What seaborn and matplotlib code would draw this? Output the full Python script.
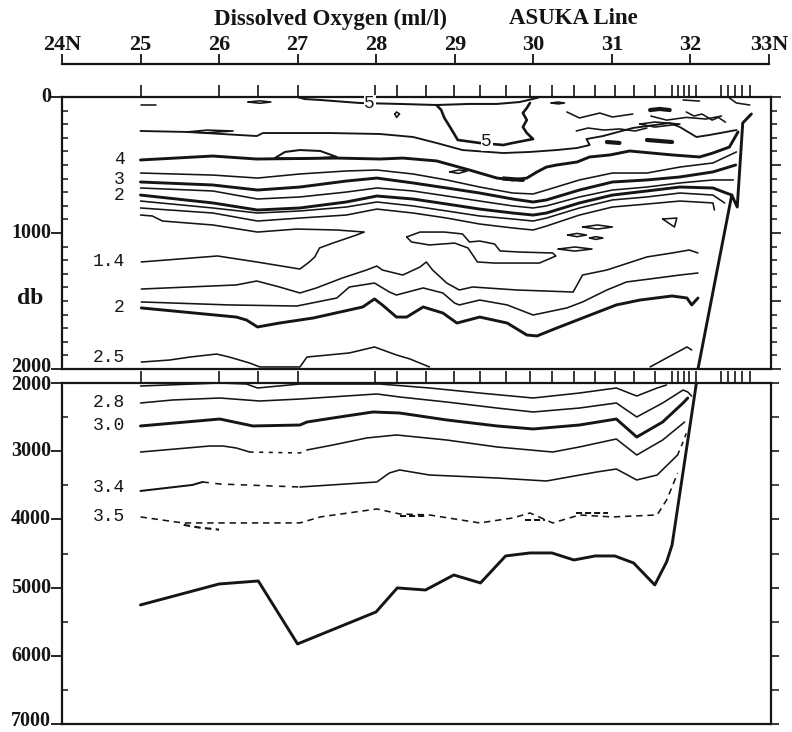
import numpy as np
import pandas as pd
import matplotlib
matplotlib.use("Agg")
import matplotlib.pyplot as plt
import seaborn as sns
from matplotlib.ticker import MultipleLocator

# ---------------- data ----------------
lat_ticks = [24, 25, 26, 27, 28, 29, 30, 31, 32, 33]
lat_tick_labels = ['24N', '25', '26', '27', '28', '29', '30', '31', '32', '33N']
stations = [25.0, 26.0, 26.49, 27.0, 27.99, 28.27, 28.63, 28.99, 29.33, 29.65, 29.96,
            30.24, 30.52, 30.79, 31.04, 31.28, 31.55, 31.77, 31.84, 31.92, 31.99, 32.08,
            32.39, 32.48, 32.57, 32.66, 32.76]
upper_ticks = [0, 1000, 2000]
lower_ticks = [2000, 3000, 4000, 5000, 6000, 7000]

# upper section (0-2000 db)
c50_lat = [27.0, 27.09, 27.29, 27.79, 28.30, 28.77, 29.19, 29.54, 29.83, 30.05, 30.08]
c50_dep = [0, 15, 22, 44, 51, 59, 51, 51, 37, 7, 0]
pocket_lat = [28.77, 28.83, 28.87, 28.91, 28.98, 29.04, 29.32, 29.62, 29.74, 30.0, 29.92, 29.87, 29.92, 29.87, 29.92, 29.96]
pocket_dep = [59, 96, 154, 191, 257, 316, 338, 353, 338, 309, 265, 221, 169, 118, 81, 44]

c45_lat = [25.0, 25.59, 26.48, 26.56, 27.41, 28.05, 28.47, 28.77, 29.10, 29.62, 29.96, 30.30, 30.56,
           30.72, 30.68, 30.89, 31.27, 31.74, 31.87, 32.08, 32.25, 32.59]
c45_dep = [250, 257, 287, 265, 265, 272, 294, 338, 390, 412, 404, 390, 375, 353, 309, 287, 228, 191,
           221, 294, 279, 243]

c40_lat = [25.0, 25.92, 26.48, 27.50, 28.05, 28.34, 28.77, 29.19, 29.54, 29.74, 29.92, 30.05, 30.17,
           30.30, 30.56, 30.72, 30.98, 31.23, 31.77, 32.12, 32.29, 32.50, 32.61]
c40_dep = [463, 434, 456, 449, 456, 449, 470, 537, 596, 610, 596, 551, 515, 500, 478, 441, 426, 397,
           426, 441, 412, 368, 257]
c40_bump_lat = [26.71, 26.84, 27.03, 27.29, 27.50, 27.03, 26.71]
c40_bump_dep = [449, 404, 390, 397, 441, 456, 449]

c35_lat = [25.0, 25.92, 26.49, 27.03, 27.62, 28.01, 28.47, 28.90, 29.32, 29.74, 30.0, 30.17, 30.59, 31.01, 31.45, 31.87, 32.29, 32.59]
c35_dep = [559, 574, 596, 566, 544, 537, 566, 610, 662, 706, 713, 684, 610, 559, 559, 515, 485, 404]
c30_lat = [25.0, 25.92, 26.49, 27.03, 27.62, 28.01, 28.47, 28.90, 29.32, 29.74, 30.0, 30.17, 30.59, 31.01, 31.45, 31.87, 32.29, 32.58]
c30_dep = [625, 647, 684, 662, 618, 596, 632, 669, 706, 750, 772, 757, 684, 625, 610, 588, 551, 500]
c25_lat = [25.0, 25.92, 26.49, 27.03, 27.62, 28.01, 28.47, 28.90, 29.32, 29.74, 30.0, 30.17, 30.59, 31.01, 31.45, 31.87, 32.29, 32.55]
c25_dep = [669, 691, 750, 735, 699, 669, 691, 728, 765, 801, 816, 801, 735, 684, 662, 632, 610, 610]
c20_lat = [25.0, 25.92, 26.49, 27.03, 27.62, 28.01, 28.47, 28.90, 29.32, 29.74, 30.0, 30.17, 30.59, 31.01, 31.45, 31.87, 32.29, 32.53]
c20_dep = [721, 779, 831, 816, 772, 728, 750, 787, 824, 853, 868, 853, 779, 721, 691, 662, 669, 721]
c18_lat = [25.0, 25.92, 26.49, 27.03, 27.62, 28.01, 28.47, 28.90, 29.32, 29.74, 30.0, 30.17, 30.59, 31.01, 31.45, 31.87, 32.29, 32.44]
c18_dep = [765, 816, 853, 838, 809, 772, 801, 838, 875, 897, 912, 890, 816, 757, 735, 706, 721, 779]
c16_lat = [25.0, 25.92, 26.49, 27.03, 27.62, 28.01, 28.47, 28.90, 29.32, 29.74, 30.0, 30.17, 30.59, 31.01, 31.45, 31.87, 32.29, 32.31]
c16_dep = [816, 853, 912, 890, 868, 824, 853, 890, 934, 963, 978, 949, 868, 809, 787, 765, 779, 831]

c14_lat = [25.0, 25.15, 25.28, 25.92, 26.49, 26.99, 27.50, 27.85, 27.75, 27.45, 27.28, 27.22, 27.15,
           27.03, 26.48, 25.98, 25.01]
c14_dep = [868, 875, 912, 941, 993, 971, 978, 993, 1015, 1074, 1110, 1176, 1213, 1265, 1213, 1169, 1213]
c14_loop_lat = [28.39, 28.56, 28.87, 29.10, 29.19, 29.32, 29.51, 29.58, 29.83, 30.25, 30.29, 30.08, 29.83,
                29.51, 29.29, 29.24, 29.17, 29.0, 28.68, 28.45, 28.39]
c14_loop_dep = [1029, 993, 993, 1007, 1066, 1059, 1081, 1132, 1140, 1147, 1169, 1221, 1221, 1221, 1213,
                1169, 1110, 1074, 1088, 1066, 1029]

c16b_lat = [25.01, 26.22, 26.48, 26.77, 27.03, 27.24, 27.57, 27.88, 28.01, 28.08, 28.34, 28.56, 28.64,
            28.72, 28.90, 29.06, 29.23, 29.79, 30.51, 30.63, 30.94, 31.45, 31.77, 31.99, 32.10]
c16b_dep = [1412, 1382, 1353, 1397, 1441, 1404, 1331, 1272, 1243, 1272, 1309, 1250, 1213, 1272, 1368,
            1419, 1397, 1419, 1434, 1309, 1272, 1176, 1147, 1125, 1147]
c18b_lat = [25.01, 26.13, 26.99, 27.50, 27.66, 27.98, 28.17, 28.26, 28.60, 28.85, 29.00, 29.06, 29.32,
            29.67, 30.00, 30.43, 30.63, 30.94, 31.19, 31.58, 31.87, 32.10]
c18b_dep = [1507, 1529, 1537, 1478, 1397, 1368, 1434, 1456, 1404, 1441, 1515, 1529, 1493, 1529, 1603,
            1551, 1507, 1419, 1360, 1331, 1309, 1294]
c20b_lat = [25.01, 26.22, 26.35, 26.49, 26.77, 27.20, 27.83, 27.98, 28.08, 28.26, 28.39, 28.60, 28.85,
            29.03, 29.32, 29.67, 29.92, 30.05, 30.30, 30.63, 31.06, 31.36, 31.77, 31.96, 32.02, 32.10]
c20b_dep = [1551, 1618, 1640, 1691, 1662, 1625, 1544, 1485, 1529, 1618, 1618, 1544, 1588, 1662, 1618,
            1662, 1750, 1757, 1699, 1625, 1529, 1493, 1463, 1478, 1529, 1478]
c25b_lat = [25.01, 25.37, 25.63, 25.97, 26.13, 26.39, 26.52, 27.03, 27.12, 27.66, 27.98, 28.26, 28.43, 28.68]
c25b_dep = [1949, 1934, 1912, 1890, 1912, 1956, 1985, 1985, 1912, 1882, 1838, 1897, 1926, 1985]
c25c_lat = [31.49, 31.77, 31.96, 32.02]
c25c_dep = [1985, 1897, 1838, 1860]

slope_u_lat = [32.10, 32.53, 32.60, 32.67, 32.78]
slope_u_dep = [2000, 721, 809, 191, 125]

# small closed cells / fragments in the upper section
frag_lats = [
    [25.01, 25.20],
    [26.37, 26.52, 26.66, 26.52, 26.37],
    [28.24, 28.26, 28.30, 28.26, 28.24],
    [25.59, 25.85, 26.18, 25.85, 25.59],
    [30.23, 30.32, 30.40, 30.32, 30.23],
    [30.43, 30.59, 30.85, 31.01, 31.27],
    [31.36, 31.55, 31.87, 31.55, 31.36],
    [32.50, 32.59, 32.76],
    [31.91, 32.12],
    [28.94, 29.05, 29.16, 29.05, 28.94],
    [31.65, 31.83, 31.80, 31.65],
    [30.63, 30.82, 31.01, 30.82, 30.63],
    [30.44, 30.56, 30.68, 30.56, 30.44],
    [30.72, 30.80, 30.89, 30.80, 30.72],
    [30.32, 30.53, 30.75, 30.53, 30.32],
    [30.55, 30.70, 30.90, 31.10, 31.30, 31.45],
    [31.50, 31.70, 31.95, 32.20, 32.40],
    [31.95, 32.05, 32.15, 32.28, 32.36, 32.45],
]
frag_deps = [
    [59, 59],
    [37, 28, 37, 46, 37],
    [125, 150, 125, 110, 125],
    [257, 243, 250, 262, 257],
    [44, 37, 44, 51, 44],
    [110, 154, 118, 147, 125],
    [199, 184, 199, 221, 199],
    [7, 44, 59],
    [22, 30],
    [551, 537, 544, 562, 551],
    [897, 890, 956, 897],
    [956, 941, 956, 971, 956],
    [1015, 1003, 1015, 1027, 1015],
    [1037, 1027, 1037, 1047, 1037],
    [1118, 1103, 1118, 1133, 1118],
    [250, 228, 243, 235, 250, 228],
    [140, 170, 150, 162, 140],
    [110, 140, 125, 170, 150, 185],
]
dark_lats = [[31.49, 31.61, 31.74], [30.94, 31.10], [31.45, 31.77], [29.62, 29.87]]
dark_deps = [[96, 88, 96], [331, 338], [316, 331], [599, 610]]

# lower section (2000-7000 db)
l26_lat = [25.0, 26.01, 26.35, 26.49, 27.03, 28.05, 28.68, 29.32, 30.0, 30.59, 31.06, 31.32, 31.58, 31.70]
l26_dep = [2044, 2000, 2015, 2073, 2015, 2015, 2073, 2147, 2220, 2147, 2073, 2191, 2073, 2029]
l28_lat = [25.0, 25.41, 26.01, 26.52, 27.03, 28.01, 28.30, 28.90, 29.54, 30.0, 30.59, 31.06, 31.32,
           31.65, 31.91, 31.97, 32.02]
l28_dep = [2293, 2249, 2220, 2264, 2235, 2161, 2205, 2279, 2367, 2425, 2367, 2293, 2498, 2293, 2103, 2132, 2191]
l30_lat = [25.0, 26.01, 26.43, 27.03, 27.12, 27.45, 27.96, 28.30, 28.90, 29.54, 30.0, 30.59, 31.06,
           31.32, 31.65, 31.91, 31.97]
l30_dep = [2630, 2528, 2630, 2616, 2572, 2513, 2425, 2440, 2542, 2630, 2674, 2616, 2528, 2792, 2572, 2293, 2220]
l32a_lat = [25.0, 25.88, 26.05, 26.22, 26.39]
l32a_dep = [3012, 2924, 2924, 2953, 3012]
l32d_lat = [26.39, 27.03, 27.12]
l32d_dep = [3012, 3026, 2982]
l32b_lat = [27.12, 27.45, 27.88, 28.26, 28.90, 29.54, 30.25, 30.59, 31.06, 31.32, 31.65, 31.93]
l32b_dep = [2982, 2909, 2806, 2762, 2836, 2938, 3012, 2938, 2821, 3056, 2836, 2572]
l34a_lat = [25.0, 25.66, 25.79]
l34a_dep = [3583, 3495, 3451]
l34d_lat = [25.79, 26.01, 27.03]
l34d_dep = [3451, 3481, 3525]
l34b_lat = [27.03, 28.01, 28.17, 28.30, 28.68, 29.54, 30.17, 30.81, 31.06, 31.32, 31.58, 31.84]
l34b_dep = [3525, 3451, 3319, 3275, 3349, 3393, 3437, 3305, 3261, 3422, 3349, 3056]
l34e_lat = [31.84, 31.91, 31.95]
l34e_dep = [3056, 2865, 2740]
l35_lat = [25.0, 25.54, 26.01, 27.03, 27.29, 28.01, 28.30, 28.68, 29.32, 29.74, 29.96, 30.25, 30.59,
           31.01, 31.58, 31.70, 31.77, 31.84]
l35_dep = [3964, 4052, 4052, 4052, 3964, 3847, 3920, 3935, 4052, 3979, 3906, 4052, 3935, 3964, 3935,
           3715, 3525, 3319]
l35x_lat = [25.55, 25.75, 26.0]
l35x_dep = [4080, 4120, 4150]
l35y_lat = [[28.30, 28.62], [30.55, 30.95], [29.90, 30.15]]
l35y_dep = [[3950, 3950], [3905, 3905], [4010, 4010]]

bottom_lat = [25.0, 26.0, 26.5, 27.0, 28.0, 28.27, 28.63, 28.99, 29.33, 29.65, 29.96, 30.24, 30.52,
              30.79, 31.04, 31.28, 31.55, 31.70, 31.77, 32.08]
bottom_dep = [5254, 4947, 4903, 5826, 5357, 5005, 5035, 4815, 4932, 4536, 4492, 4492, 4595, 4536,
              4536, 4639, 4961, 4624, 4375, 2000]

labels_upper = ['4', '3', '2', '1.4', '2', '2.5']
labels_upper_dep = [463, 603, 721, 1213, 1551, 1919]
labels_lower = ['2.8', '3.0', '3.4', '3.5']
labels_lower_dep = [2293, 2616, 3539, 3964]

# ---------------- drawing ----------------
sns.set_theme(style="white")
plt.rcParams['font.family'] = ['Liberation Serif', 'DejaVu Serif']

INK = '#151515'
THIN, THICK = 1.15, 2.1
W, H = 792, 732
fig = plt.figure(figsize=(W / 100, H / 100), dpi=100)
fig.patch.set_facecolor('white')


def fx(px):
    return px / W


def fy(py):
    return 1 - py / H


L, R = 62, 771
ax_u = fig.add_axes([fx(L), fy(369), fx(R) - fx(L), fy(97) - fy(369)])
ax_l = fig.add_axes([fx(L), fy(724), fx(R) - fx(L), fy(383) - fy(724)])
ax_lat = fig.add_axes([fx(62), fy(64), fx(769) - fx(62), 0.0005])


def trace(ax, lat, dep, lw=THIN, dashes=None):
    df = pd.DataFrame({'lat': lat, 'dep': dep})
    sns.lineplot(data=df, x='lat', y='dep', ax=ax, sort=False, estimator=None,
                 color=INK, linewidth=lw, legend=False)
    ln = ax.lines[-1]
    ln.set_solid_joinstyle('round')
    if dashes is not None:
        ln.set_dashes(dashes)


# upper panel lines
trace(ax_u, c50_lat, c50_dep, THIN + 0.3)
trace(ax_u, pocket_lat, pocket_dep, THICK - 0.2)
trace(ax_u, c45_lat, c45_dep, THIN + 0.2)
trace(ax_u, c40_lat, c40_dep, THICK)
trace(ax_u, c40_bump_lat, c40_bump_dep, THIN + 0.3)
trace(ax_u, c35_lat, c35_dep, THIN)
trace(ax_u, c30_lat, c30_dep, THICK)
trace(ax_u, c25_lat, c25_dep, THIN)
trace(ax_u, c20_lat, c20_dep, THICK)
trace(ax_u, c18_lat, c18_dep, THIN)
trace(ax_u, c16_lat, c16_dep, THIN)
trace(ax_u, c14_lat, c14_dep, THIN)
trace(ax_u, c14_loop_lat, c14_loop_dep, THIN)
trace(ax_u, c16b_lat, c16b_dep, THIN)
trace(ax_u, c18b_lat, c18b_dep, THIN)
trace(ax_u, c20b_lat, c20b_dep, THICK)
trace(ax_u, c25b_lat, c25b_dep, THIN)
trace(ax_u, c25c_lat, c25c_dep, THIN)
trace(ax_u, slope_u_lat, slope_u_dep, THICK)
for la, de in zip(frag_lats, frag_deps):
    trace(ax_u, la, de, THIN)
for la, de in zip(dark_lats, dark_deps):
    trace(ax_u, la, de, 3.0)

# lower panel lines
trace(ax_l, l26_lat, l26_dep, THIN)
trace(ax_l, l28_lat, l28_dep, THIN)
trace(ax_l, l30_lat, l30_dep, THICK)
trace(ax_l, l32a_lat, l32a_dep, THIN)
trace(ax_l, l32d_lat, l32d_dep, THIN, (2.5, 3.5))
trace(ax_l, l32b_lat, l32b_dep, THIN)
trace(ax_l, l34a_lat, l34a_dep, THIN + 0.3)
trace(ax_l, l34d_lat, l34d_dep, THIN, (4, 4))
trace(ax_l, l34b_lat, l34b_dep, THIN)
trace(ax_l, l34e_lat, l34e_dep, THIN, (3, 3))
trace(ax_l, l35_lat, l35_dep, THIN, (4, 3))
trace(ax_l, l35x_lat, l35x_dep, THIN + 0.4, (3, 2))
for la, de in zip(l35y_lat, l35y_dep):
    trace(ax_l, la, de, THIN + 0.3, (3, 1.5))
trace(ax_l, bottom_lat, bottom_dep, THICK)

# contour labels
lab_font = dict(family=['Liberation Mono', 'DejaVu Sans Mono'], fontsize=13, color=INK,
                ha='right', va='center')
for t, d in zip(labels_upper, labels_upper_dep):
    ax_u.text(24.80, d, t, **lab_font)
for t, d in zip(labels_lower, labels_lower_dep):
    ax_l.text(24.80, d, t, **lab_font)
inline = dict(family=['Liberation Mono', 'DejaVu Sans Mono'], fontsize=13, color=INK,
              ha='center', va='center',
              bbox=dict(facecolor='white', edgecolor='none', pad=0.5))
ax_u.text(27.92, 51, '5', **inline)
ax_u.text(29.41, 330, '5', **inline)

ytick_font = dict(fontsize=14.5, fontweight='bold', color=INK, ha='right', va='center')

for ax, ylim in ((ax_u, (2000, 0)), (ax_l, (7000, 2000))):
    ax.set_xlim(24, 33.03)
    ax.set_ylim(*ylim)
    ax.set_xlabel('')
    ax.set_ylabel('')
    ax.set_facecolor('white')
    ax.grid(False)
    for s in ax.spines.values():
        s.set_visible(True)
        s.set_color(INK)
        s.set_linewidth(1.6)
    ax.xaxis.set_ticks_position('top')
    ax.set_xticks(stations)
    ax.tick_params(axis='x', which='major', direction='out', length=9, width=1.2,
                   color=INK, labeltop=False, labelbottom=False)
    ax.yaxis.set_ticks_position('left')

# upper y axis
ax_u.set_yticks(upper_ticks)
ax_u.set_yticklabels([])
ax_u.yaxis.set_minor_locator(MultipleLocator(100))
ax_u.tick_params(axis='y', which='major', direction='out', length=8, width=1.3, color=INK)
ax_u.tick_params(axis='y', which='minor', direction='in', length=4, width=1.1, color=INK)
ytr_u = ax_u.get_yaxis_transform()
for v, nudge in zip(upper_ticks, [0, 0, -18]):
    ax_u.text(-11 / 709, v + nudge, str(v), transform=ytr_u, **ytick_font)

# lower y axis
ax_l.set_yticks(lower_ticks)
ax_l.set_yticklabels([])
ax_l.yaxis.set_minor_locator(MultipleLocator(500))
ax_l.tick_params(axis='y', which='major', direction='out', length=8, width=1.3, color=INK)
ax_l.tick_params(axis='y', which='minor', direction='in', length=4, width=1.1, color=INK)
ytr_l = ax_l.get_yaxis_transform()
for v, nudge in zip(lower_ticks, [30, 0, 0, 0, 0, -45]):
    ax_l.text(-11 / 709, v + nudge, str(v), transform=ytr_l, **ytick_font)

# right-hand ticks
for ax, minor, major, lmaj in ((ax_u, 100, 500, 7), (ax_l, 500, 1000, 6)):
    tw = ax.twinx()
    tw.set_ylim(ax.get_ylim())
    tw.yaxis.set_major_locator(MultipleLocator(major))
    tw.yaxis.set_minor_locator(MultipleLocator(minor))
    tw.tick_params(axis='y', which='major', direction='out', length=lmaj, width=1.2, color=INK,
                   labelright=False)
    tw.tick_params(axis='y', which='minor', direction='out', length=4 if minor == 100 else 6,
                   width=1.1, color=INK)
    for s in tw.spines.values():
        s.set_visible(False)
    tw.grid(False)
    tw.set_ylabel('')

# latitude axis
ax_lat.set_xlim(24, 33)
for s in ('left', 'right', 'bottom'):
    ax_lat.spines[s].set_visible(False)
ax_lat.spines['top'].set_color(INK)
ax_lat.spines['top'].set_linewidth(1.6)
ax_lat.patch.set_visible(False)
ax_lat.set_yticks([])
ax_lat.xaxis.set_ticks_position('top')
ax_lat.set_xticks(lat_ticks)
ax_lat.set_xticklabels(lat_tick_labels, fontsize=16, fontweight='bold', color=INK)
ax_lat.tick_params(axis='x', direction='out', length=7, width=1.3, pad=-1, color=INK,
                   labeltop=True, labelbottom=False)

fig.text(fx(30), fy(298), 'db', fontsize=17, fontweight='bold', ha='center', va='center', color=INK)
fig.text(fx(331), fy(19), 'Dissolved Oxygen (ml/l)', fontsize=16.5, fontweight='bold',
         ha='center', va='center', color=INK)
fig.text(fx(573), fy(19), 'ASUKA Line', fontsize=16.5, fontweight='bold',
         ha='center', va='center', color=INK)

fig.savefig('out.png', dpi=100, facecolor='white')
